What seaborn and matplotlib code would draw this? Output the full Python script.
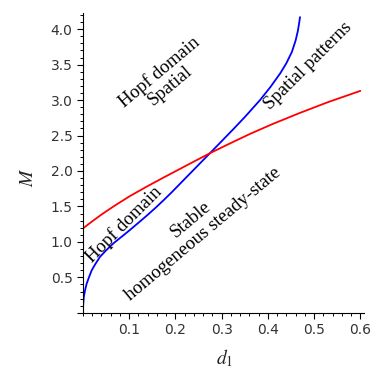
import matplotlib
matplotlib.use("Agg")
import matplotlib.pyplot as plt
import seaborn as sns
import pandas as pd
from matplotlib.ticker import MultipleLocator

# blue curve
blue_d1 = [0.0, 0.0005, 0.002, 0.005, 0.008, 0.013, 0.019, 0.027, 0.037, 0.05,
           0.066, 0.085, 0.102, 0.12, 0.138, 0.156, 0.174, 0.192, 0.21, 0.246,
           0.279, 0.30, 0.326, 0.35, 0.383, 0.405, 0.427, 0.44, 0.452, 0.46,
           0.465, 0.468, 0.4695]
blue_M = [0.0, 0.11, 0.23, 0.33, 0.41, 0.50, 0.60, 0.69, 0.79, 0.88,
          0.98, 1.08, 1.17, 1.27, 1.37, 1.475, 1.585, 1.70, 1.82, 2.06,
          2.28, 2.42, 2.595, 2.76, 3.0, 3.18, 3.38, 3.52, 3.68, 3.84,
          3.98, 4.10, 4.17]

# red curve
red_d1 = [0.0, 0.02, 0.04, 0.066, 0.1, 0.138, 0.175, 0.21, 0.245, 0.279,
          0.32, 0.362, 0.41, 0.47, 0.53, 0.6]
red_M = [1.19, 1.29, 1.385, 1.50, 1.64, 1.78, 1.91, 2.03, 2.15, 2.265,
         2.395, 2.525, 2.662, 2.821, 2.971, 3.13]

region_text = ["Hopf domain\nSpatial", "Hopf domain", "Spatial patterns",
               "Stable\nhomogeneous steady-state"]
region_x = [0.177, 0.088, 0.487, 0.246]
region_y = [3.30, 1.25, 3.48, 1.21]
region_rot = [40, 45, 45, 40]
region_spacing = [1.0, 1.0, 1.0, 1.15]

sns.set_style("ticks")
plt.rcParams["mathtext.fontset"] = "stix"

fig = plt.figure(figsize=(3.84, 3.68), dpi=100)
ax = fig.add_axes([0.216, 0.150, 0.732, 0.815])

blue = pd.DataFrame({"d1": blue_d1, "M": blue_M})
red = pd.DataFrame({"d1": red_d1, "M": red_M})
sns.lineplot(data=blue, x="d1", y="M", sort=False, estimator=None, color="blue", lw=1.3, ax=ax)
sns.lineplot(data=red, x="d1", y="M", sort=False, estimator=None, color="red", lw=1.3, ax=ax)

for t, x, y, r, ls in zip(region_text, region_x, region_y, region_rot, region_spacing):
    ax.text(x, y, t, rotation=r, ha="center", va="center", multialignment="center",
            family="Liberation Serif", fontsize=13.5, color="black",
            rotation_mode="anchor", linespacing=ls)

ax.set_xlim(0, 0.608)
ax.set_ylim(0, 4.23)
ax.spines["top"].set_visible(False)
ax.spines["right"].set_visible(False)
for s in ["left", "bottom"]:
    ax.spines[s].set_linewidth(0.8)
    ax.spines[s].set_color("black")

ax.xaxis.set_minor_locator(MultipleLocator(0.02))
ax.yaxis.set_minor_locator(MultipleLocator(0.1))
ax.set_xticks([0.1, 0.2, 0.3, 0.4, 0.5, 0.6])
ax.set_yticks([0.0, 0.5, 1.0, 1.5, 2.0, 2.5, 3.0, 3.5, 4.0])
ax.set_yticklabels(["", "0.5", "1.0", "1.5", "2.0", "2.5", "3.0", "3.5", "4.0"])
ax.tick_params(which="major", length=4.5, width=0.8, color="black",
               labelsize=10, labelcolor="#333333", pad=3)
ax.tick_params(which="minor", length=2.5, width=0.7, color="black")

ax.set_xlabel("$d_1$", fontsize=14)
ax.set_ylabel("$M$", fontsize=14)
ax.xaxis.set_label_coords(0.505, -0.115)
ax.yaxis.set_label_coords(-0.165, 0.453)

fig.savefig("out.png", dpi=100)
